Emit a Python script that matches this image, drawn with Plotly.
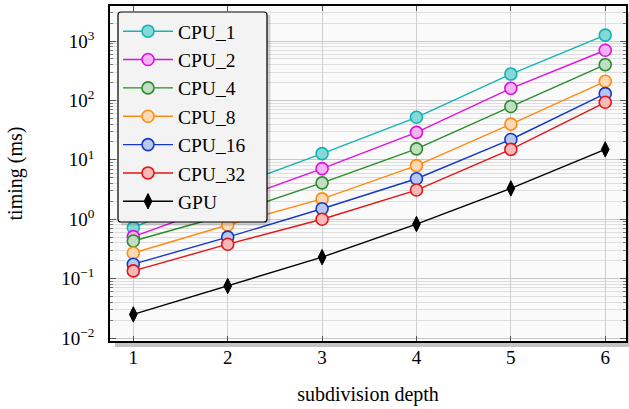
import plotly.graph_objects as go

depth = [1, 2, 3, 4, 5, 6]
series_names = ["CPU_1", "CPU_2", "CPU_4", "CPU_8", "CPU_16", "CPU_32", "GPU"]
cpu_1 = [0.72, 3.3, 12.7, 52, 278, 1260]
cpu_2 = [0.51, 1.9, 7.1, 29, 160, 700]
cpu_4 = [0.43, 1.2, 4.1, 15.3, 79, 400]
cpu_8 = [0.27, 0.80, 2.2, 8.0, 40, 210]
cpu_16 = [0.175, 0.50, 1.5, 4.8, 22, 130]
cpu_32 = [0.135, 0.38, 1.0, 3.1, 15, 93]
gpu = [0.025, 0.075, 0.23, 0.83, 3.3, 15]
values = [cpu_1, cpu_2, cpu_4, cpu_8, cpu_16, cpu_32, gpu]

ytick_vals = [0.01, 0.1, 1, 10, 100, 1000]
ytick_text = ["10<sup>\u22122</sup>", "10<sup>\u22121</sup>", "10<sup>0</sup>",
              "10<sup>1</sup>", "10<sup>2</sup>", "10<sup>3</sup>"]

line_colors = ["#14b4b4", "#e010e0", "#2a8c2a", "#ff8a14", "#1438c8", "#e61414", "#000000"]
fill_colors = ["#84d8d8", "#f4b4f4", "#c2dec2", "#ffd8b4", "#b8c8f0", "#f4baba", "#000000"]

W, H = 629, 409
L, R, T, B = 110, 3, 6, 68
PW, PH = W - L - R, H - T - B

def px(x):
    return (x - L) / PW

def py(y):
    return 1 - (y - T) / PH

fig = go.Figure()
for name, vals, lc, fc in zip(series_names, values, line_colors, fill_colors):
    if name == "GPU":
        marker = dict(symbol="diamond-tall", size=11, color=lc, line=dict(color=lc, width=1))
    else:
        marker = dict(symbol="circle", size=12, color=fc, line=dict(color=lc, width=1.6))
    fig.add_trace(go.Scatter(x=depth, y=vals, name=name, mode="lines+markers",
                             line=dict(color=lc, width=1.4), marker=marker))

font_family = "Liberation Serif, Times New Roman, serif"

shapes = [
    # plot shadow (bottom and right)
    dict(type="rect", xref="paper", yref="paper", x0=px(115), x1=px(640), y0=py(347), y1=py(341),
         fillcolor="#c4c4c4", line=dict(width=0), layer="below"),
    dict(type="rect", xref="paper", yref="paper", x0=px(626.5), x1=px(640), y0=py(347), y1=py(12),
         fillcolor="#c4c4c4", line=dict(width=0), layer="below"),
    # legend shadow
    dict(type="rect", xref="paper", yref="paper", x0=px(121), x1=px(270.5), y0=py(225.5), y1=py(15),
         fillcolor="rgba(0,0,0,0.16)", line=dict(width=0), layer="above"),
]
# legend box with rounded corners (pixel geometry converted to paper coordinates)
bx0, bx1, by0, by1, r = 118, 267, 12, 222, 3
pts = [
    ("M", bx0 + r, by0), ("L", bx1 - r, by0), ("Q", bx1, by0, bx1, by0 + r),
    ("L", bx1, by1 - r), ("Q", bx1, by1, bx1 - r, by1), ("L", bx0 + r, by1),
    ("Q", bx0, by1, bx0, by1 - r), ("L", bx0, by0 + r), ("Q", bx0, by0, bx0 + r, by0),
]
segs = []
for p in pts:
    cmd, coords = p[0], p[1:]
    conv = []
    for i in range(0, len(coords), 2):
        conv.append(f"{px(coords[i]):.5f},{py(coords[i+1]):.5f}")
    segs.append(cmd + " " + " ".join(conv))
path = " ".join(segs) + " Z"
shapes.append(dict(type="path", xref="paper", yref="paper", path=path, fillcolor="#f3f3f3",
                   line=dict(color="#000000", width=1.2), layer="above"))

fig.update_layout(
    width=W, height=H,
    margin=dict(l=L, r=R, t=T, b=B, autoexpand=False),
    paper_bgcolor="white",
    plot_bgcolor="#fafafa",
    font=dict(family=font_family, size=18, color="black"),
    showlegend=True,
    legend=dict(x=px(118), y=py(12), xanchor="left", yanchor="top",
                bgcolor="rgba(0,0,0,0)", borderwidth=0, itemwidth=50,
                font=dict(family=font_family, size=19.5), tracegroupgap=0,
                maxheight=1),
    shapes=shapes,
)

fig.update_xaxes(
    range=[0.753, 6.22], tickvals=depth, ticks="inside", ticklen=5, tickcolor="#555",
    showline=True, linecolor="black", linewidth=1.5, mirror="ticks", automargin=False,
    showgrid=True, gridcolor="#cfcfcf", gridwidth=1, zeroline=False,
    tickfont=dict(size=19), ticklabelstandoff=-2,
    title=dict(text="subdivision depth", font=dict(size=20), standoff=20),
)
fig.update_yaxes(
    type="log", range=[-2.05, 3.59], tickvals=ytick_vals, ticktext=ytick_text,
    ticks="inside", ticklen=6, tickcolor="#555", automargin=False,
    showline=True, linecolor="black", linewidth=1.5, mirror="ticks",
    showgrid=True, gridcolor="#c8c8c8", gridwidth=1.2, zeroline=False,
    minor=dict(dtick="D1", ticks="inside", ticklen=3, tickcolor="#777",
               showgrid=True, gridcolor="#dedede", gridwidth=1),
    tickfont=dict(size=19), ticklabelstandoff=10,
    title=dict(text="timing (ms)", font=dict(size=20), standoff=33),
)

fig.write_html("out.html", config={"displayModeBar": False},
               post_script="document.body.style.margin='0';")
